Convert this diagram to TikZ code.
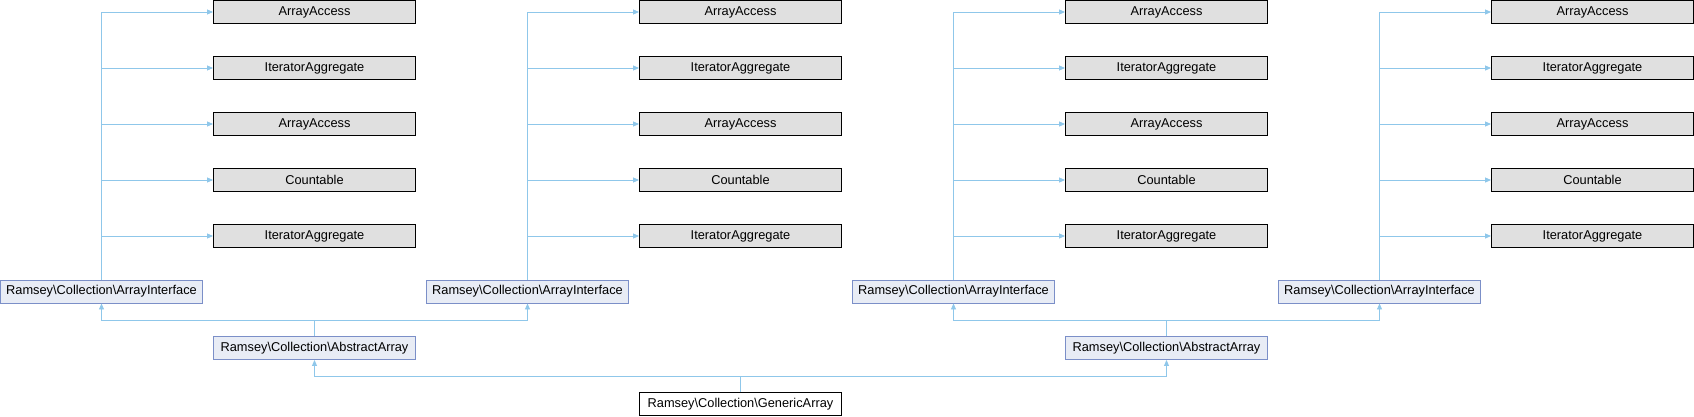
\documentclass[tikz,border=0pt]{standalone}
\usepackage{fontspec}
\setmainfont{Liberation Sans}
\usetikzlibrary{arrows.meta}
\definecolor{edgecol}{HTML}{8FC7EA}
\definecolor{ifill}{HTML}{E8ECF5}
\definecolor{idraw}{HTML}{7B8FC8}
\definecolor{gfill}{HTML}{E0E0E0}
\tikzset{
  basebox/.style={minimum width=202pt, minimum height=23pt, inner sep=0pt, line width=0.9pt,
    font=\fontsize{12.8}{15}\selectfont, text=black, anchor=center},
  graybox/.style={basebox, draw=black, fill=gfill},
  bluebox/.style={basebox, draw=idraw, fill=ifill},
  whitebox/.style={basebox, draw=black, fill=white},
  edge/.style={draw=edgecol, line width=0.9pt, -{Triangle[length=6pt,width=5pt]}},
}
\newcommand{\bs}{\textbackslash{}}
\begin{document}
\begin{tikzpicture}[x=1pt,y=-1pt]
\useasboundingbox (0,0) rectangle (1694,416);
\foreach \k in {0,1,2,3}{
  \pgfmathsetmacro{\gx}{314.5+426*\k}
  \pgfmathsetmacro{\ix}{101.5+426*\k}
  \node[graybox] (g\k a) at (\gx,12) {ArrayAccess};
  \node[graybox] (g\k b) at (\gx,68) {IteratorAggregate};
  \node[graybox] (g\k c) at (\gx,124) {ArrayAccess};
  \node[graybox] (g\k d) at (\gx,180) {Countable};
  \node[graybox] (g\k e) at (\gx,236) {IteratorAggregate};
  \node[bluebox] (i\k) at (\ix,291.5) {Ramsey\bs Collection\bs ArrayInterface};
  \foreach \r in {a,b,c,d,e}{
    \draw[edge] (i\k.north) |- (g\k\r.west);
  }
}
\node[bluebox] (a0) at (314.5,348) {Ramsey\bs Collection\bs AbstractArray};
\node[bluebox] (a1) at (1166.5,348) {Ramsey\bs Collection\bs AbstractArray};
\node[whitebox] (gen) at (740.5,404) {Ramsey\bs Collection\bs GenericArray};
\draw[edge] (a0.north) -- ++(0,-16) -| (i0.south);
\draw[edge] (a0.north) -- ++(0,-16) -| (i1.south);
\draw[edge] (a1.north) -- ++(0,-16) -| (i2.south);
\draw[edge] (a1.north) -- ++(0,-16) -| (i3.south);
\draw[edge] (gen.north) -- ++(0,-16) -| (a0.south);
\draw[edge] (gen.north) -- ++(0,-16) -| (a1.south);
\end{tikzpicture}
\end{document}
